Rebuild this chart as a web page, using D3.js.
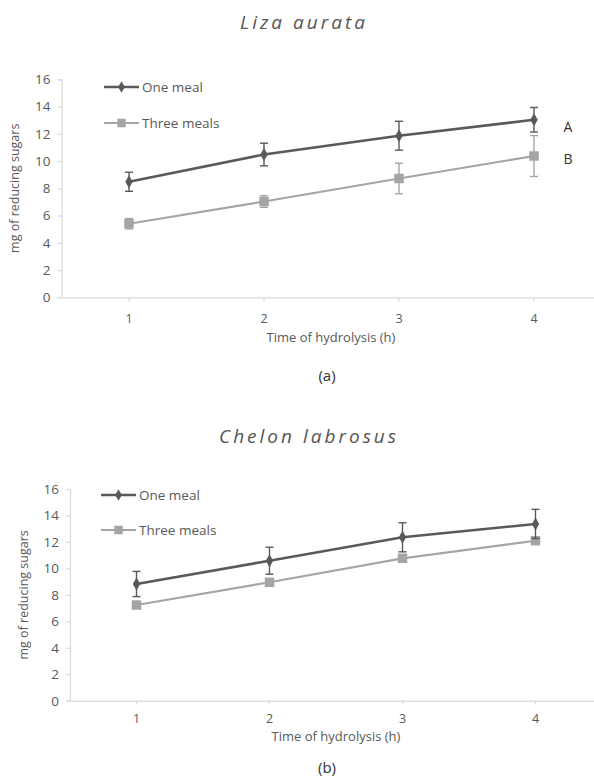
<!DOCTYPE html>
<html>
<head>
<meta charset="utf-8">
<script src="https://cdn.jsdelivr.net/npm/d3@7"></script>
<style>
  html, body { margin: 0; padding: 0; background: #fff; }
  svg { display: block; }
  text { font-family: "Open Sans", "Liberation Sans", sans-serif; fill: #595959; }
</style>
</head>
<body>
<svg id="chart" width="594" height="779"></svg>
<script>
// Hydrolysis time points (h)
const hours = ["1", "2", "3", "4"];
const yTicks = [0, 2, 4, 6, 8, 10, 12, 14, 16];
const seriesNames = ["One meal", "Three meals"];

// Panel (a): Liza aurata — mean and error of reducing sugars (mg)
const lizaOneMeal = [8.48, 10.48, 11.86, 13.03];
const lizaOneMealErr = [0.7, 0.83, 1.06, 0.9];
const lizaThreeMeals = [5.4, 7.03, 8.72, 10.37];
const lizaThreeMealsErr = [0.38, 0.43, 1.12, 1.5];
const lizaLetters = ["A", "B"];

// Panel (b): Chelon labrosus
const chelonOneMeal = [8.82, 10.58, 12.35, 13.36];
const chelonOneMealErr = [0.95, 1.02, 1.1, 1.1];
const chelonThreeMeals = [7.23, 8.95, 10.76, 12.09];
const chelonThreeMealsErr = [0.12, 0.12, 0.15, 0.22];

const svg = d3.select("#chart");
const darkGrey = "#595959";
const lightGrey = "#a5a5a5";
const axisGrey = "#d9d9d9";

function drawPanel(p) {
  const g = svg.append("g");
  const x = d3.scaleBand().domain(hours).range([p.left, p.right]);
  const y = d3.scaleLinear().domain([0, 16]).range([p.bottom, p.top]);
  const cx = d => x(d) + x.bandwidth() / 2;

  // title
  g.append("text")
    .attr("x", p.titleX).attr("y", p.titleY)
    .attr("text-anchor", "middle")
    .attr("font-size", 19).attr("font-style", "italic")
    .attr("letter-spacing", 3)
    .style("fill", "#555")
    .text(p.title);

  // y axis
  const yAxis = g.append("g")
    .attr("transform", `translate(${p.left},0)`)
    .call(d3.axisLeft(y).tickValues(yTicks).tickSize(4).tickPadding(7));
  yAxis.selectAll("path, line").attr("stroke", axisGrey).attr("stroke-width", 1.2);
  yAxis.selectAll("text").attr("font-size", 13.5).style("fill", darkGrey)
    .style("font-family", "'Open Sans', sans-serif");

  // x axis
  const xAxis = g.append("g")
    .attr("transform", `translate(0,${p.bottom})`)
    .call(d3.axisBottom(x).tickSize(4).tickSizeOuter(0).tickPadding(p.tickPad));
  xAxis.selectAll("path, line").attr("stroke", axisGrey).attr("stroke-width", 1.2);
  xAxis.selectAll("text").attr("font-size", 12.5).style("fill", darkGrey)
    .style("font-family", "'Open Sans', sans-serif");

  // axis titles
  g.append("text")
    .attr("transform", `translate(${p.yTitleX},${(p.top + p.bottom) / 2}) rotate(-90)`)
    .attr("text-anchor", "middle").attr("font-size", 12.5)
    .text("mg of reducing sugars");
  g.append("text")
    .attr("x", p.xTitleX).attr("y", p.xTitleY)
    .attr("text-anchor", "middle").attr("font-size", 13)
    .text("Time of hydrolysis (h)");
  g.append("text")
    .attr("x", p.capX).attr("y", p.capY)
    .attr("text-anchor", "middle").attr("font-size", 15)
    .style("fill", "#333")
    .text(p.caption);

  const series = [
    { name: seriesNames[0], values: p.one, errs: p.oneErr, color: darkGrey, width: 2.6, shape: d3.symbolDiamond, size: 48 },
    { name: seriesNames[1], values: p.three, errs: p.threeErr, color: lightGrey, width: 2.2, shape: d3.symbolSquare, size: 90 }
  ];

  const line = d3.line().x((d, i) => cx(hours[i])).y(d => y(d));

  // draw lighter series first so the darker one sits on top
  series.slice().reverse().forEach(s => {
    const sg = g.append("g");
    sg.append("path").datum(s.values)
      .attr("d", line).attr("fill", "none")
      .attr("stroke", s.color).attr("stroke-width", s.width);
    // error bars
    const eb = sg.selectAll(".eb").data(s.values).enter().append("g")
      .attr("stroke", s.color).attr("stroke-width", 1.4);
    eb.append("line")
      .attr("x1", (d, i) => cx(hours[i])).attr("x2", (d, i) => cx(hours[i]))
      .attr("y1", (d, i) => y(d + s.errs[i])).attr("y2", (d, i) => y(d - s.errs[i]));
    [1, -1].forEach(sign => {
      eb.append("line")
        .attr("x1", (d, i) => cx(hours[i]) - 4).attr("x2", (d, i) => cx(hours[i]) + 4)
        .attr("y1", (d, i) => y(d + sign * s.errs[i])).attr("y2", (d, i) => y(d + sign * s.errs[i]));
    });
    // markers
    sg.selectAll(".mk").data(s.values).enter().append("path")
      .attr("d", d3.symbol().type(s.shape).size(s.size))
      .attr("transform", (d, i) => `translate(${cx(hours[i])},${y(d)})`)
      .attr("fill", s.color);
  });

  // legend
  series.forEach((s, i) => {
    const ly = p.legY[i];
    const lg = g.append("g");
    lg.append("line")
      .attr("x1", p.legX).attr("x2", p.legX + 35)
      .attr("y1", ly).attr("y2", ly)
      .attr("stroke", s.color).attr("stroke-width", s.width);
    lg.append("path")
      .attr("d", d3.symbol().type(s.shape).size(s.size * 0.8))
      .attr("transform", `translate(${p.legX + 17.5},${ly})`)
      .attr("fill", s.color);
    lg.append("text")
      .attr("x", p.legX + 38).attr("y", ly).attr("dy", "0.35em")
      .attr("font-size", 13.5)
      .text(s.name);
  });

  // group letters
  if (p.letters) {
    p.letters.forEach((t, i) => {
      const v = i === 0 ? p.one[3] : p.three[3];
      g.append("text")
        .attr("x", p.letterX).attr("y", y(v) + p.letterOffset[i]).attr("dy", "0.35em")
        .attr("text-anchor", "middle").attr("font-size", 14)
        .style("fill", "#333")
        .text(t);
    });
  }
}

drawPanel({
  title: "Liza aurata", titleX: 304, titleY: 29,
  left: 61.5, right: 601.5, top: 79.3, bottom: 297.3,
  one: lizaOneMeal, oneErr: lizaOneMealErr,
  three: lizaThreeMeals, threeErr: lizaThreeMealsErr,
  legX: 104, legY: [87, 123],
  yTitleX: 19, xTitleX: 331, xTitleY: 342, tickPad: 13,
  caption: "(a)", capX: 327, capY: 381,
  letters: lizaLetters, letterX: 568, letterOffset: [7, 3]
});

drawPanel({
  title: "Chelon labrosus", titleX: 309, titleY: 443,
  left: 70, right: 602, top: 489, bottom: 700.7,
  one: chelonOneMeal, oneErr: chelonOneMealErr,
  three: chelonThreeMeals, threeErr: chelonThreeMealsErr,
  legX: 101, legY: [495, 530],
  yTitleX: 28, xTitleX: 336, xTitleY: 741, tickPad: 9,
  caption: "(b)", capX: 327, capY: 773
});
</script>
</body>
</html>
